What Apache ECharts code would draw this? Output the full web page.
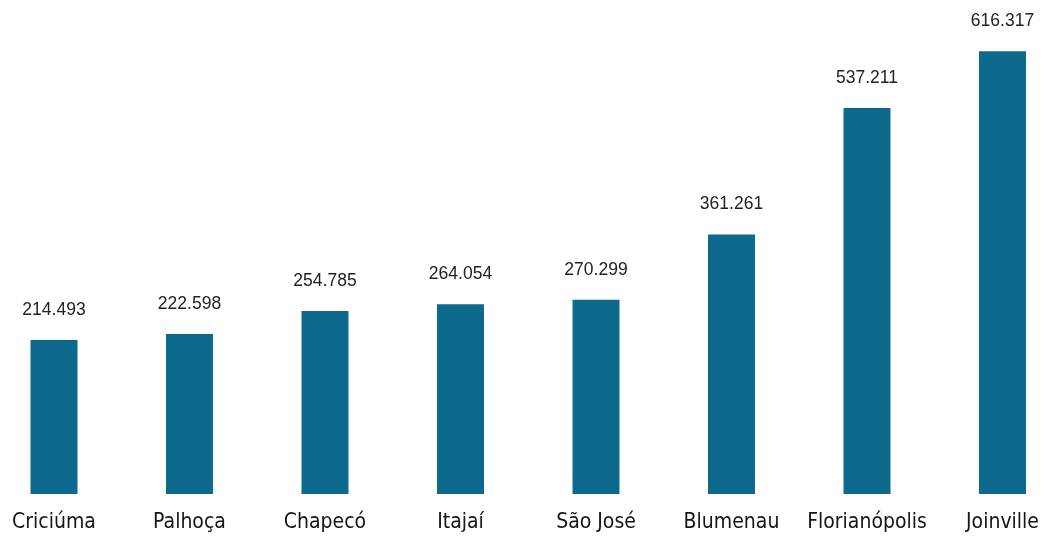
<!DOCTYPE html>
<html>
<head>
<meta charset="utf-8">
<script src="https://cdn.jsdelivr.net/npm/echarts@6/dist/echarts.min.js"></script>
<style>html,body{margin:0;padding:0;background:#fff;}#c{width:1046px;height:538px;}</style>
</head>
<body>
<div id="c"></div>
<script>
const categories = ["Criciúma", "Palhoça", "Chapecó", "Itajaí", "São José", "Blumenau", "Florianópolis", "Joinville"];
const values = [214.493, 222.598, 254.785, 264.054, 270.299, 361.261, 537.211, 616.317];

const chart = echarts.init(document.getElementById('c'));
chart.setOption({
  animation: false,
  grid: { left: 54, right: 43.5, top: 27, bottom: 44, containLabel: false },
  xAxis: {
    type: 'category',
    data: categories,
    boundaryGap: false,
    axisLine: { show: false },
    axisTick: { show: false },
    axisLabel: {
      interval: 0, hideOverlap: false,
      color: '#151515', fontSize: 21, fontFamily: 'DejaVu Sans Condensed', margin: 18
    }
  },
  yAxis: {
    type: 'value', min: 0, max: 650,
    show: false,
    splitLine: { show: false }
  },
  series: [{
    type: 'bar',
    data: values,
    barWidth: 47,
    itemStyle: { color: '#0e6a8d' },
    label: {
      show: true, position: 'top', distance: 21,
      color: '#222', fontSize: 17.5, fontFamily: 'Liberation Sans',
      formatter: p => p.value.toFixed(3)
    }
  }]
});
</script>
</body>
</html>
